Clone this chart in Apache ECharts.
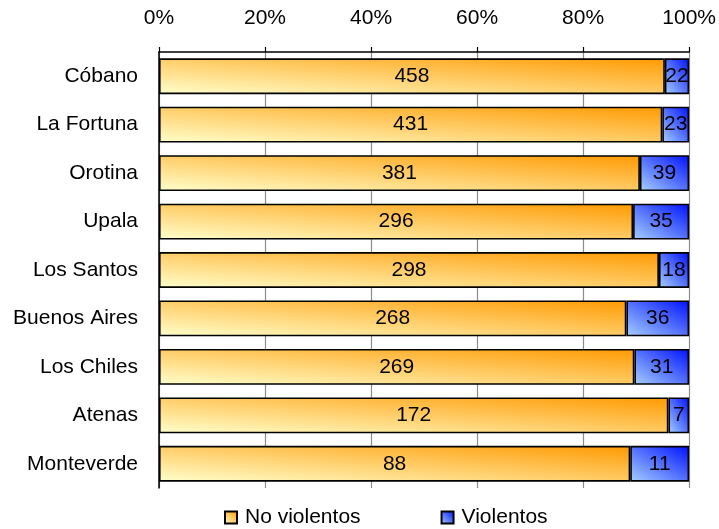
<!DOCTYPE html>
<html><head><meta charset="utf-8">
<script src="https://cdn.jsdelivr.net/npm/echarts@6/dist/echarts.min.js"></script>
<style>html,body{margin:0;padding:0;background:#fff}#c{width:719px;height:529px}</style>
</head><body><div id="c"></div>
<script>
const categories = ["Cóbano","La Fortuna","Orotina","Upala","Los Santos","Buenos Aires","Los Chiles","Atenas","Monteverde"];
const noViolentos = [458,431,381,296,298,268,269,172,88];
const violentos = [22,23,39,35,18,36,31,7,11];
const seriesNames = ["No violentos","Violentos"];

const totals = categories.map((c,i)=>noViolentos[i]+violentos[i]);
const font = '"Liberation Sans", Arial, sans-serif';

// layout constants
const GRID = {left:159,right:27,top:52,bottom:41};
const plotW = 719 - GRID.left - GRID.right;
const barH = (529 - GRID.top - GRID.bottom) / categories.length * 0.74;

// Excel-like diagonal gradient (in normalised shape space) for a box W x H
function diagGrad(W, H, c0, c1){
  const s = W*W + H*H;
  const a = 2*H*H/s, b = 2*W*W/s;
  return new echarts.graphic.LinearGradient(0,1,a,1-b,[{offset:0,color:c0},{offset:1,color:c1}]);
}
const ORANGE = ['#FFFFCC','#FF9900'];
const BLUE = ['#A6D0FF','#0010FF'];

function mkData(arr, cols){
  return arr.map((v,i)=>{
    const p = v/totals[i]*100;
    const W = p/100*plotW;
    return {value:p, raw:v, itemStyle:{color:diagGrad(W, barH, cols[0], cols[1])}};
  });
}

const chart = echarts.init(document.getElementById('c'));
chart.setOption({
  animation:false,
  textStyle:{fontFamily:font},
  grid:GRID,
  xAxis:{type:'value',position:'top',min:0,max:100,interval:20,
    axisLabel:{formatter:'{value}%',color:'#000',fontSize:21,margin:23,fontFamily:font},
    axisLine:{show:true,lineStyle:{color:'#000',width:1.5}},
    axisTick:{show:true,length:5,lineStyle:{color:'#000',width:1.2}},
    splitLine:{show:true,lineStyle:{color:'#8c8c8c',width:1.2}}},
  yAxis:{type:'category',data:categories,inverse:true,
    axisLabel:{color:'#000',fontSize:21,margin:21,fontFamily:font},
    axisLine:{lineStyle:{color:'#000',width:1.5}},
    axisTick:{length:7,lineStyle:{color:'#000',width:1.2}}},
  legend:{bottom:-4,left:219,itemGap:80,itemWidth:12,itemHeight:12,
    textStyle:{color:'#000',fontSize:21,fontFamily:font,padding:[0,0,0,3]},
    data:seriesNames.map(n=>({name:n,icon:'rect'}))},
  series:[
    {name:seriesNames[0],type:'bar',stack:'t',barCategoryGap:'26%',data:mkData(noViolentos,ORANGE),
     itemStyle:{color:new echarts.graphic.LinearGradient(0,1,1,0,[{offset:0,color:ORANGE[0]},{offset:1,color:ORANGE[1]}]),borderColor:'#000',borderWidth:1.6},
     label:{show:true,position:'inside',color:'#000',fontSize:21,fontFamily:font,formatter:p=>p.data.raw}},
    {name:seriesNames[1],type:'bar',stack:'t',data:mkData(violentos,BLUE),
     itemStyle:{color:new echarts.graphic.LinearGradient(0,1,1,0,[{offset:0,color:BLUE[0]},{offset:1,color:BLUE[1]}]),borderColor:'#000',borderWidth:1.6},
     label:{show:true,position:'inside',color:'#000',fontSize:21,fontFamily:font,formatter:p=>p.data.raw}}
  ]
});
</script></body></html>
